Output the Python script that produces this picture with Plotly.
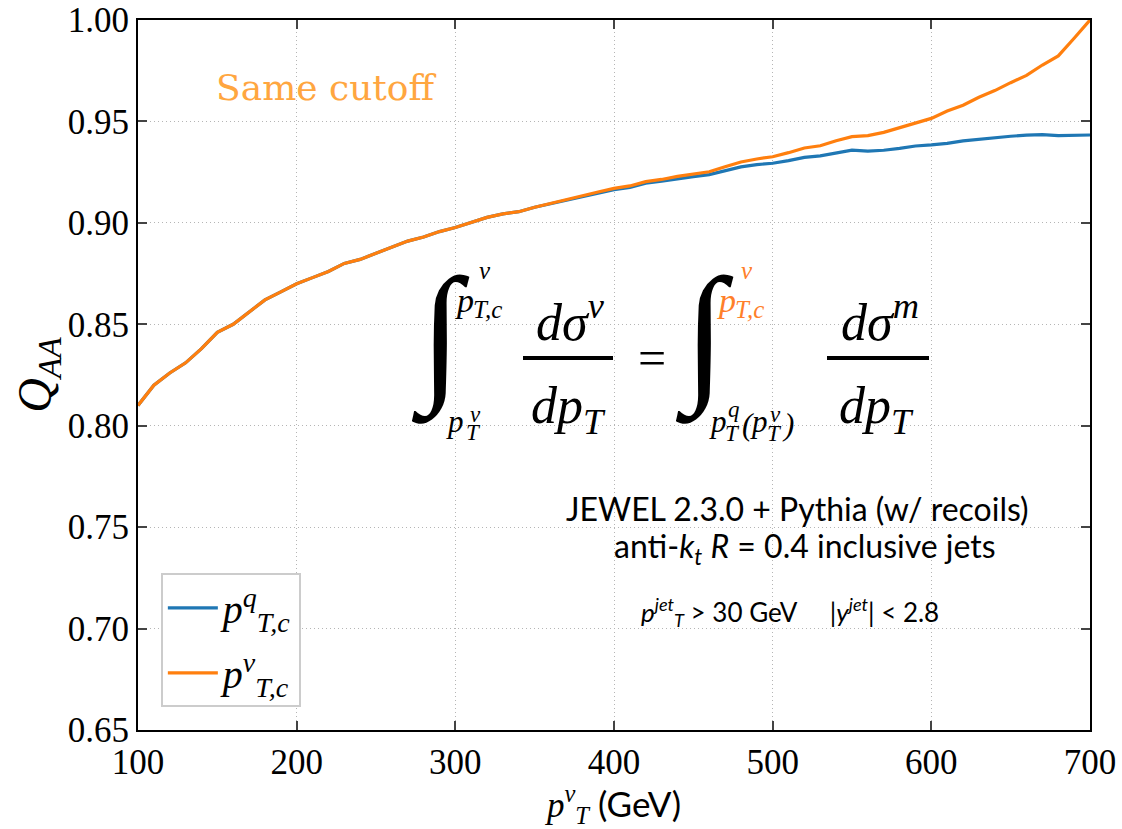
import plotly.graph_objects as go

pt_v = [100, 110, 120, 130, 140, 150, 160, 170, 180, 190, 200, 210, 220, 230, 240, 250,
        260, 270, 280, 290, 300, 310, 320, 330, 340, 350, 360, 370, 380, 390, 400, 410,
        420, 430, 440, 450, 460, 470, 480, 490, 500, 510, 520, 530, 540, 550, 560, 570,
        580, 590, 600, 610, 620, 630, 640, 650, 660, 670, 680, 690, 700]

q_orange = [0.810, 0.820, 0.826, 0.831, 0.838, 0.846, 0.850, 0.856, 0.862, 0.866, 0.870,
            0.873, 0.876, 0.880, 0.882, 0.885, 0.888, 0.891, 0.893, 0.8957, 0.8977, 0.900,
            0.9027, 0.9044, 0.9055, 0.9077, 0.9096, 0.9118, 0.9134, 0.9152, 0.917, 0.9182,
            0.9203, 0.9214, 0.9229, 0.9241, 0.9252, 0.9277, 0.930, 0.9315, 0.9326, 0.9346,
            0.9369, 0.938, 0.9405, 0.9425, 0.943, 0.9446, 0.9469, 0.9492, 0.9515, 0.9551,
            0.958, 0.9619, 0.9652, 0.9691, 0.9727, 0.9778, 0.9823, 0.991, 1.000]

q_blue = [0.810, 0.820, 0.826, 0.831, 0.838, 0.846, 0.850, 0.856, 0.862, 0.866, 0.870,
          0.873, 0.876, 0.880, 0.882, 0.885, 0.888, 0.891, 0.893, 0.8957, 0.8977, 0.900,
          0.9027, 0.9044, 0.9055, 0.9077, 0.9094, 0.9115, 0.9130, 0.9147, 0.9163, 0.9175,
          0.9196, 0.9205, 0.9218, 0.9228, 0.9238, 0.9258, 0.9276, 0.9287, 0.9294, 0.9307,
          0.9323, 0.933, 0.9346, 0.9358, 0.9354, 0.9358, 0.9367, 0.9379, 0.9384, 0.9392,
          0.9404, 0.9413, 0.9418, 0.9427, 0.9432, 0.9435, 0.943, 0.9433, 0.9433]

x_ticks = [100, 200, 300, 400, 500, 600, 700]
y_ticks = [0.65, 0.70, 0.75, 0.80, 0.85, 0.90, 0.95, 1.00]
y_ticklabels = ["0.65", "0.70", "0.75", "0.80", "0.85", "0.90", "0.95", "1.00"]

BLUE = "#1f77b4"
ORANGE = "#ff7f0e"
SERIF = "Liberation Serif"
SANS = "Lato"

W, H = 1122, 829
ML, MR, MT, MB = 138, 32, 20, 99
PW, PH = W - ML - MR, H - MT - MB


def px(x, y):
    return (x - ML) / PW, (H - MB - y) / PH


fig = go.Figure()
fig.add_trace(go.Scatter(x=pt_v, y=q_blue, mode="lines", legendgroup="a",
                         line=dict(color=BLUE, width=3.2),
                         name="<i>p</i><sup><i>q</i></sup><sub><i>T,c</i></sub>"))
fig.add_trace(go.Scatter(x=pt_v, y=q_orange, mode="lines", legendgroup="b",
                         line=dict(color=ORANGE, width=3.2),
                         name="<i>p</i><sup><i>v</i></sup><sub><i>T,c</i></sub>"))

ann = []


def add_text(x, y, text, size, color="black", family=SERIF, xanchor="center"):
    xp, yp = px(x, y)
    ann.append(dict(x=xp, y=yp, xref="paper", yref="paper", text=text, showarrow=False,
                    font=dict(size=size, color=color, family=family),
                    xanchor=xanchor, yanchor="middle", borderpad=0))


def it(x, y, s, size, color="black"):
    add_text(x, y, "<i>" + s + "</i>", size, color=color, xanchor="left")


# Same cutoff label
add_text(326, 88, "Same cutoff", 36, color="#ffa640", family="DejaVu Serif")

# formula: left integral
add_text(440, 324, "∫", 152, family="Noto Sans")
it(454, 300, "p", 34)
it(478, 270, "v", 25)
it(472, 309, "T,c", 25)
it(445, 421, "p", 31)
it(469, 415, "v", 23)
it(465, 432, "T", 23)
add_text(570, 318, "<i>dσ</i><sup><i>v</i></sup>", 52)
add_text(568, 410, "<i>dp</i><sub><i>T</i></sub>", 52)
add_text(652, 358, "=", 50)
# right integral
add_text(704, 324, "∫", 152, family="Noto Sans")
OR2 = "#ff7f2a"
it(716, 300, "p", 34, OR2)
it(740, 270, "v", 25, OR2)
it(734, 309, "T,c", 25, OR2)
it(708, 421, "p", 31)
it(727, 410, "q", 23)
it(724, 433, "T", 23)
it(741, 424, "(", 31)
it(749, 421, "p", 31)
it(769, 415, "v", 23)
it(766, 433, "T", 23)
it(781, 424, ")", 31)
add_text(880, 318, "<i>dσ</i><sup><i>m</i></sup>", 52)
add_text(876, 410, "<i>dp</i><sub><i>T</i></sub>", 52)

# info text
add_text(797, 508, "JEWEL 2.3.0 + Pythia (w/ recoils)", 32, family=SANS)
add_text(805, 548, "anti-<i>k</i><sub><i>t</i></sub> <i>R</i> = 0.4 inclusive jets", 32, family=SANS)
add_text(790, 612, "<i>p</i><sup><i>jet</i></sup><sub><i>T</i></sub> > 30 GeV     |<i>y</i><sup><i>jet</i></sup>| < 2.8",
         26, family=SANS)

shapes = []
for x0, x1 in [(523, 613), (827, 929)]:
    a0, b0 = px(x0, 358)
    a1, _ = px(x1, 358)
    shapes.append(dict(type="line", xref="paper", yref="paper", x0=a0, x1=a1, y0=b0, y1=b0,
                       line=dict(color="black", width=4)))

fig.update_layout(
    width=W, height=H,
    margin=dict(l=ML, r=MR, t=MT, b=MB, autoexpand=False),
    paper_bgcolor="white", plot_bgcolor="white",
    annotations=ann, shapes=shapes,
    showlegend=True,
    legend=dict(x=0.024, y=0.032, xanchor="left", yanchor="bottom",
                bgcolor="white", bordercolor="#cccccc", borderwidth=2,
                font=dict(size=40, family=SERIF, color="black"),
                itemwidth=50, tracegroupgap=10),
    font=dict(family=SERIF, color="black"),
)
GRID = "#b5b5b5"
fig.update_xaxes(range=[100, 700], tickvals=x_ticks, ticks="inside", ticklen=9, tickwidth=2,
                 mirror="allticks", showline=True, linecolor="black", linewidth=2,
                 showgrid=True, gridcolor=GRID, griddash="1px,3px", gridwidth=1.2,
                 zeroline=False, tickfont=dict(size=35, family=SERIF), automargin=False,
                 title=dict(text="<span style='font-family:Liberation Serif'><i>p</i><sup><i>v</i></sup><sub><i>T</i></sub></span> (GeV)",
                            font=dict(size=35, family=SANS), standoff=12))
fig.update_yaxes(range=[0.65, 1.00], tickvals=y_ticks, ticktext=y_ticklabels, ticks="inside",
                 ticklen=9, tickwidth=2, mirror="allticks", showline=True, linecolor="black",
                 linewidth=2, showgrid=True, gridcolor=GRID, griddash="1px,3px", gridwidth=1.2,
                 zeroline=False, tickfont=dict(size=35, family=SERIF), automargin=False,
                 title=dict(text="<i>Q</i><sub><i>AA</i></sub>", font=dict(size=48, family=SERIF),
                            standoff=0))

fig.write_html("out.html", post_script="document.body.style.margin='0';",
               config={"displayModeBar": False})
